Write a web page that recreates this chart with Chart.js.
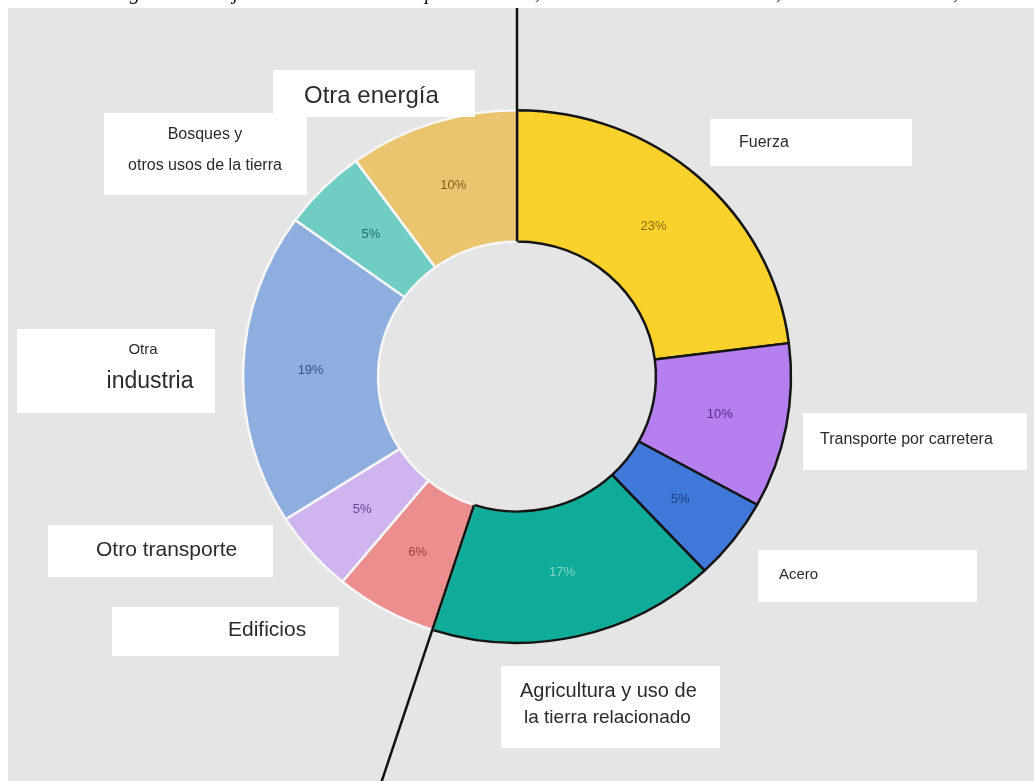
<!DOCTYPE html>
<html lang="es">
<head>
  <meta charset="UTF-8">
  <title>Emisiones por sector</title>
  <script src="https://cdn.jsdelivr.net/npm/chart.js"></script>
  <style>
    body {
      margin: 0;
      background: #ffffff;
    }
    #wrap {
      width: 1034px;
      height: 781px;
    }
  </style>
</head>
<body>
  <div id="wrap"><canvas id="chart" width="1034" height="781"></canvas></div>

  <script>
    // Datos del gráfico
    const sectores = [
      'Fuerza',
      'Transporte por carretera',
      'Acero',
      'Agricultura y uso de la tierra relacionado',
      'Edificios',
      'Otro transporte',
      'Otra industria',
      'Bosques y otros usos de la tierra',
      'Otra energía'
    ];
    const porcentajes = [23, 10, 5, 17, 6, 5, 19, 5, 10];

    const colores = ['#fbd12b', '#b57ff0', '#3f78d8', '#0fac9a', '#ec8e8d', '#cfb4ef', '#8eaedf', '#6fcdc3', '#ebc46f'];
    const bordes = ['#151515', '#151515', '#151515', '#151515', '#f7f7f7', '#f7f7f7', '#f7f7f7', '#f7f7f7', '#f7f7f7'];
    const coloresTexto = ['#8a6c12', '#5a2b8e', '#1f3f86', '#7fd3c8', '#a53c3e', '#6b449a', '#34558e', '#246f69', '#7c5c1c'];

    // Cajas de etiquetas alrededor del anillo
    const cajas = [
      { x: 273, y: 70, w: 202, h: 47, lineas: [{ t: 'Otra energía', x: 304, y: 96, size: 24 }] },
      { x: 104, y: 113, w: 203, h: 82, lineas: [
        { t: 'Bosques y', x: 205, y: 135, size: 16, centro: true },
        { t: 'otros usos de la tierra', x: 205, y: 166, size: 16, centro: true }
      ] },
      { x: 710, y: 119, w: 202, h: 47, lineas: [{ t: 'Fuerza', x: 739, y: 143, size: 16 }] },
      { x: 17, y: 329, w: 198, h: 84, lineas: [
        { t: 'Otra', x: 143, y: 350, size: 15, centro: true },
        { t: 'industria', x: 150, y: 382, size: 23, centro: true }
      ] },
      { x: 803, y: 413, w: 224, h: 57, lineas: [{ t: 'Transporte por carretera', x: 820, y: 440, size: 16 }] },
      { x: 758, y: 550, w: 219, h: 52, lineas: [{ t: 'Acero', x: 779, y: 575, size: 15 }] },
      { x: 48, y: 525, w: 225, h: 52, lineas: [{ t: 'Otro transporte', x: 96, y: 550, size: 21 }] },
      { x: 112, y: 607, w: 227, h: 49, lineas: [{ t: 'Edificios', x: 228, y: 630, size: 21 }] },
      { x: 501, y: 666, w: 219, h: 82, lineas: [
        { t: 'Agricultura y uso de', x: 520, y: 691, size: 20 },
        { t: 'la tierra relacionado', x: 524, y: 718, size: 19 }
      ] }
    ];

    // Restos del pie de figura que queda cortado arriba
    const pieFigura = [
      { t: 'Figura', x: 111 },
      { t: 'objeto', x: 212 },
      { t: 'por', x: 425 },
      { t: 'sector,', x: 486 },
      { t: '2016,', x: 734 },
      { t: 'WRI,', x: 916 }
    ];

    // el anillo está algo achatado en vertical
    const escalaY = 0.972;

    const fondo = {
      id: 'fondo',
      beforeDraw(chart) {
        const ctx = chart.ctx;
        ctx.save();
        ctx.fillStyle = '#ffffff';
        ctx.fillRect(0, 0, chart.width, chart.height);
        ctx.fillStyle = '#e5e5e5';
        ctx.fillRect(8, 8, chart.width - 8, chart.height - 8);

        ctx.fillStyle = '#111';
        ctx.font = 'italic 21px "Liberation Serif", serif';
        ctx.textBaseline = 'alphabetic';
        pieFigura.forEach(p => ctx.fillText(p.t, p.x, -1));
        ctx.restore();
      }
    };

    const etiquetas = {
      id: 'etiquetas',
      beforeDatasetsDraw(chart) {
        const c = chart.getDatasetMeta(0).data[0];
        const ctx = chart.ctx;
        ctx.save();
        ctx.translate(c.x, c.y);
        ctx.scale(1, escalaY);
        ctx.translate(-c.x, -c.y);
      },
      afterDatasetsDraw(chart) {
        const ctx = chart.ctx;
        ctx.restore();
        const arcs = chart.getDatasetMeta(0).data;
        const c = arcs[0];
        const pt = (a, r) => [c.x + Math.cos(a) * r, c.y + Math.sin(a) * r * escalaY];
        ctx.save();

        // líneas negras que marcan el inicio del anillo y el corte de agricultura
        ctx.strokeStyle = '#111';
        ctx.lineWidth = 2.5;
        const a0 = c.startAngle;
        ctx.beginPath();
        ctx.moveTo(...pt(a0, c.innerRadius));
        ctx.lineTo(c.x + Math.cos(a0) * 400, 8);
        ctx.stroke();

        const a1 = arcs[3].endAngle;
        ctx.beginPath();
        ctx.moveTo(...pt(a1, c.innerRadius));
        ctx.lineTo(...pt(a1, 700));
        ctx.stroke();

        // porcentajes dentro de cada sector
        ctx.font = '13px "Liberation Sans", Arial, sans-serif';
        ctx.textAlign = 'center';
        ctx.textBaseline = 'middle';
        arcs.forEach((arc, i) => {
          const mid = (arc.startAngle + arc.endAngle) / 2;
          const [x, y] = pt(mid, (arc.innerRadius + arc.outerRadius) / 2);
          ctx.fillStyle = coloresTexto[i];
          ctx.fillText(porcentajes[i] + '%', x, y);
        });

        // cajas blancas con los nombres
        cajas.forEach(b => {
          ctx.fillStyle = '#ffffff';
          ctx.fillRect(b.x, b.y, b.w, b.h);
          ctx.fillStyle = '#2b2b2b';
          b.lineas.forEach(l => {
            ctx.font = l.size + 'px "Liberation Sans", Arial, sans-serif';
            ctx.textAlign = l.centro ? 'center' : 'left';
            ctx.fillText(l.t, l.x, l.y);
          });
        });
        ctx.restore();
      }
    };

    new Chart(document.getElementById('chart'), {
      type: 'doughnut',
      data: {
        labels: sectores,
        datasets: [{
          data: porcentajes,
          backgroundColor: colores,
          borderColor: bordes,
          borderWidth: 2.5,
          hoverOffset: 0
        }]
      },
      options: {
        responsive: false,
        devicePixelRatio: 1,
        animation: false,
        radius: 274,
        cutout: '50.7%',
        layout: { padding: { top: 0, bottom: 28, left: 0, right: 0 } },
        plugins: {
          legend: { display: false },
          tooltip: { enabled: false }
        }
      },
      plugins: [fondo, etiquetas]
    });
  </script>
</body>
</html>
